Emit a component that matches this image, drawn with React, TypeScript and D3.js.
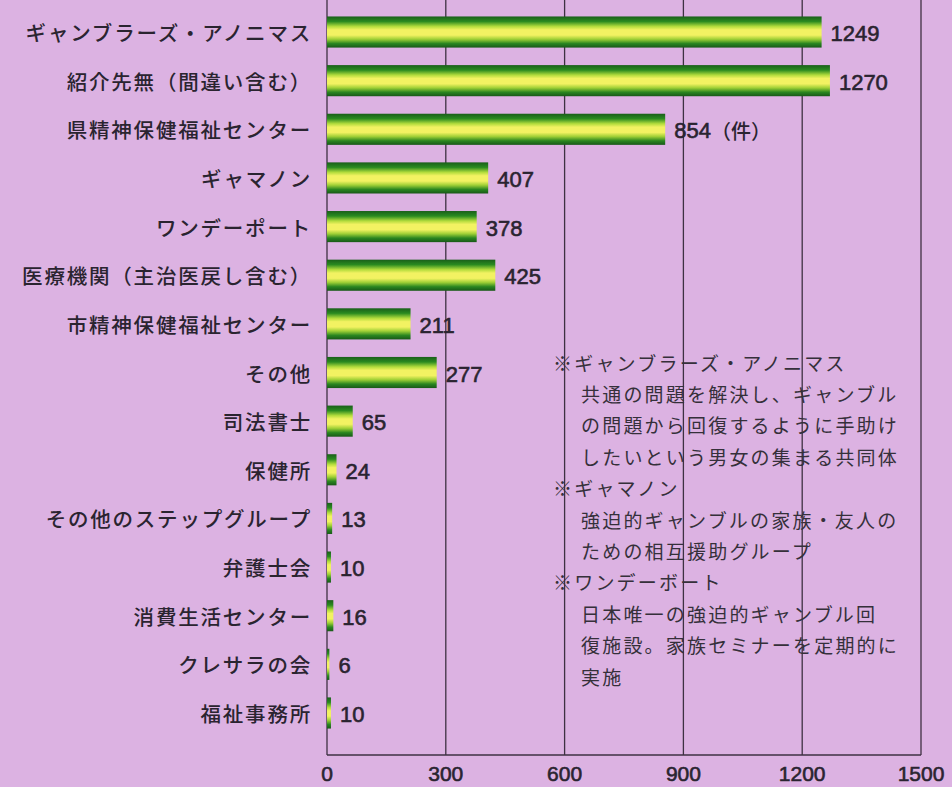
import React from "react";
import * as d3 from "d3";

const categories = [
  "ギャンブラーズ・アノニマス",
  "紹介先無（間違い含む）",
  "県精神保健福祉センター",
  "ギャマノン",
  "ワンデーポート",
  "医療機関（主治医戻し含む）",
  "市精神保健福祉センター",
  "その他",
  "司法書士",
  "保健所",
  "その他のステップグループ",
  "弁護士会",
  "消費生活センター",
  "クレサラの会",
  "福祉事務所",
];
const values = [1249, 1270, 854, 407, 378, 425, 211, 277, 65, 24, 13, 10, 16, 6, 10];
const valueSuffix = ["", "", "（件）", "", "", "", "", "", "", "", "", "", "", "", ""];
const xTicks = [0, 300, 600, 900, 1200, 1500];
const noteLines = [
  { text: "※ギャンブラーズ・アノニマス", indent: false },
  { text: "共通の問題を解決し、ギャンブル", indent: true },
  { text: "の問題から回復するように手助け", indent: true },
  { text: "したいという男女の集まる共同体", indent: true },
  { text: "※ギャマノン", indent: false },
  { text: "強迫的ギャンブルの家族・友人の", indent: true },
  { text: "ための相互援助グループ", indent: true },
  { text: "※ワンデーボート", indent: false },
  { text: "日本唯一の強迫的ギャンブル回", indent: true },
  { text: "復施設。家族セミナーを定期的に", indent: true },
  { text: "実施", indent: true },
];

const W = 952;
const H = 787;
const JP = "'Noto Sans CJK JP', 'Noto Sans', sans-serif";
const NUM = "'Liberation Sans', Arial, sans-serif";

export default function App() {
  const x = d3.scaleLinear().domain([0, 1500]).range([327, 921]);
  const y = d3
    .scaleBand<string>()
    .domain(categories)
    .range([7.7, 737.3])
    .paddingInner(0.36)
    .paddingOuter(0.18);
  const baseY = 755;
  const gridColor = "#3e3142";
  const ink = "#2a2430";

  return (
    <svg
      width={W}
      height={H}
      style={{ position: "absolute", left: 0, top: 0, display: "block" }}
    >
      <defs>
        <linearGradient id="barGrad" x1="0" y1="0" x2="0" y2="1">
          <stop offset="0" stopColor="#1a5f1a" />
          <stop offset="0.16" stopColor="#2a8a20" />
          <stop offset="0.32" stopColor="#b2dc3c" />
          <stop offset="0.43" stopColor="#f2f262" />
          <stop offset="0.6" stopColor="#f2f262" />
          <stop offset="0.73" stopColor="#a0d036" />
          <stop offset="0.87" stopColor="#2a8620" />
          <stop offset="1" stopColor="#185818" />
        </linearGradient>
      </defs>
      <rect x={0} y={0} width={W} height={H} fill="#dcb2e2" />

      {/* grid lines */}
      {xTicks.map((t) => (
        <line
          key={"g" + t}
          x1={x(t)}
          x2={x(t)}
          y1={0}
          y2={baseY}
          stroke={gridColor}
          strokeWidth={1.3}
        />
      ))}
      <line x1={x(0)} x2={x(1500)} y1={baseY} y2={baseY} stroke={gridColor} strokeWidth={1.5} />

      {/* tick labels */}
      {xTicks.map((t) => (
        <text
          key={"t" + t}
          x={x(t)}
          y={781}
          textAnchor="middle"
          fontFamily={NUM}
          fontSize={21}
          fill={ink}
          stroke={ink}
          strokeWidth={0.6}
        >
          {t}
        </text>
      ))}

      {/* notes */}
      {noteLines.map((l, i) => (
        <text
          key={"n" + i}
          x={l.indent ? 581 : 553}
          y={362 + i * 31.4}
          dominantBaseline="central"
          fontFamily={JP}
          fontSize={19}
          letterSpacing={2.2}
          fill="#35303a"
        >
          {l.text}
        </text>
      ))}

      {/* bars */}
      {categories.map((c, i) => {
        const y0 = y(c)!;
        const bw = y.bandwidth();
        const cy = y0 + bw / 2;
        return (
          <g key={c}>
            <rect
              x={x(0)}
              y={y0}
              width={x(values[i]) - x(0)}
              height={bw}
              fill="url(#barGrad)"
            />
            <text
              x={312}
              y={cy}
              textAnchor="end"
              dominantBaseline="central"
              fontFamily={JP}
              fontSize={20.5}
              fontWeight={500}
              letterSpacing={1.8}
              fill={ink}
            >
              {c}
            </text>
            <text
              x={x(values[i]) + 9}
              y={cy + 1}
              dominantBaseline="central"
              fill={ink}
            >
              <tspan fontFamily={NUM} fontSize={22} stroke={ink} strokeWidth={0.6}>
                {values[i]}
              </tspan>
              {valueSuffix[i] ? (
                <tspan fontFamily={JP} fontSize={20} fontWeight={500}>
                  {valueSuffix[i]}
                </tspan>
              ) : null}
            </text>
          </g>
        );
      })}
    </svg>
  );
}
